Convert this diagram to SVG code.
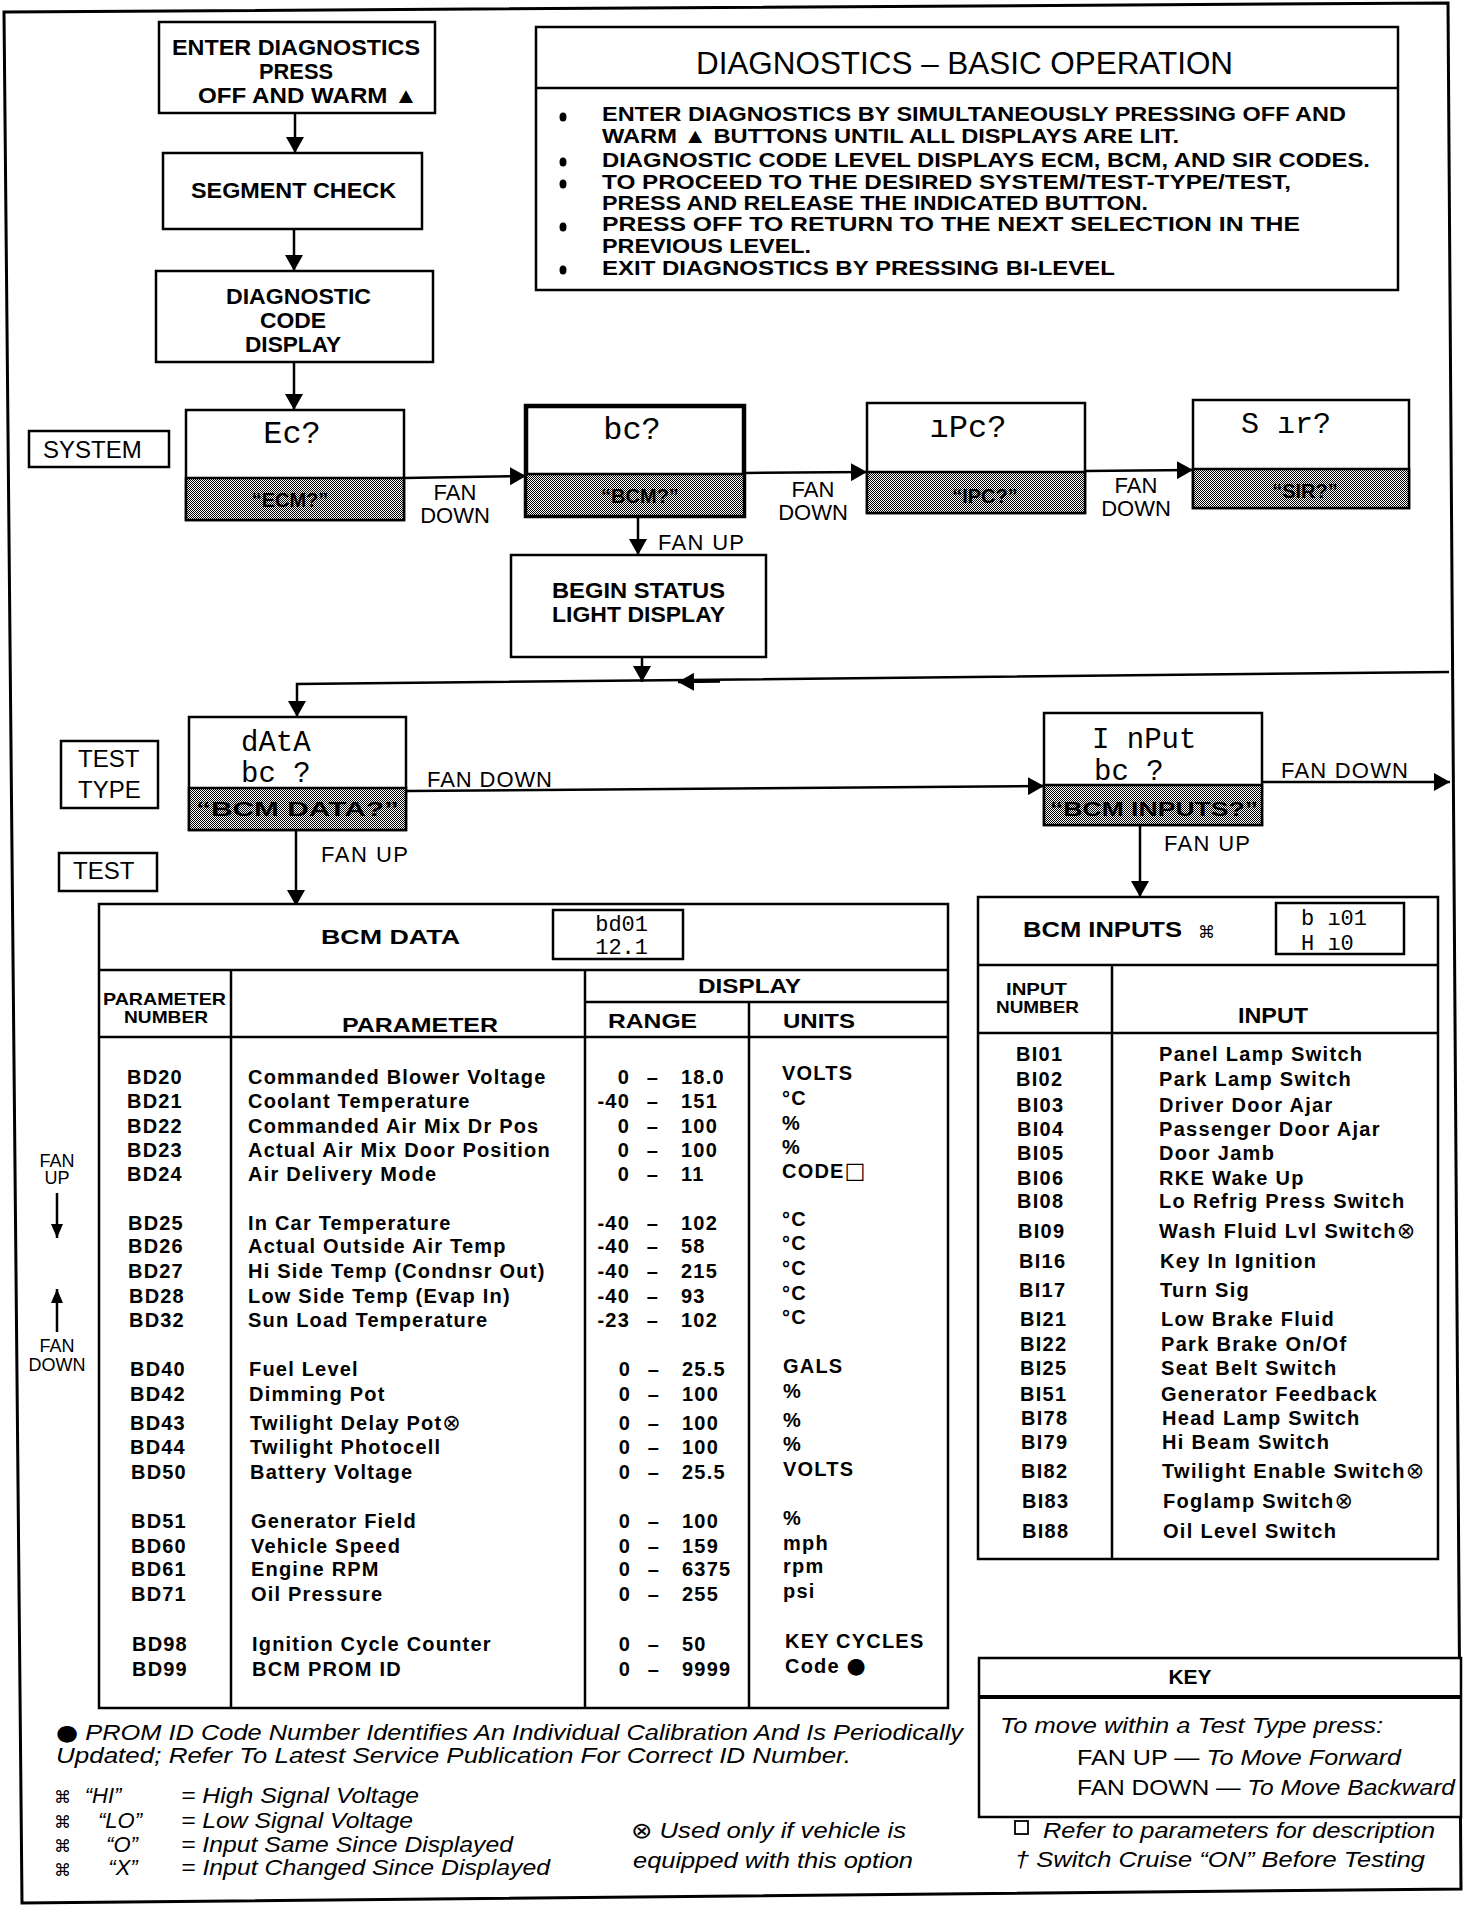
<svg xmlns="http://www.w3.org/2000/svg" width="1472" height="1908" viewBox="0 0 1472 1908">
<defs>
<style>
.bx{fill:#fff;stroke:#000;stroke-width:2.5}
.thk{fill:#fff;stroke:#000;stroke-width:4.5}
.ln{fill:none;stroke:#000;stroke-width:2.5}
.sh{fill:url(#dither);stroke:#000;stroke-width:2.5}
.b{font-family:"Liberation Sans","DejaVu Sans",Arial,sans-serif;font-weight:bold;fill:#000}
.n{font-family:"Liberation Sans","DejaVu Sans",Arial,sans-serif;font-weight:normal;fill:#000}
.it{font-family:"Liberation Sans","DejaVu Sans",Arial,sans-serif;font-style:italic;fill:#000}
.seg{font-family:"Liberation Mono","DejaVu Sans Mono",monospace;fill:#000}
.row{font-size:20px;letter-spacing:1.2px}
.inp{font-size:20px;letter-spacing:1.3px}
.c{text-anchor:middle}
.e{text-anchor:end}
.sym{font-family:"DejaVu Sans",sans-serif;font-size:22px;font-weight:normal;font-style:normal}
</style>
<pattern id="dither" x="0" y="0" width="2" height="2" patternUnits="userSpaceOnUse">
<rect width="2" height="2" fill="#fff"/>
<rect width="1" height="1" fill="#000"/>
<rect x="1" y="1" width="1" height="1" fill="#000"/>
</pattern>
<marker id="ah" viewBox="0 0 16 18" refX="16" refY="9" markerWidth="16" markerHeight="18" markerUnits="userSpaceOnUse" orient="auto">
<path d="M0,0 L16,9 L0,18 z" fill="#000"/>
</marker>
<marker id="ahs" viewBox="0 0 14 12" refX="14" refY="6" markerWidth="14" markerHeight="12" markerUnits="userSpaceOnUse" orient="auto">
<path d="M0,0 L14,6 L0,12 z" fill="#000"/>
</marker>
</defs>
<rect width="1472" height="1908" fill="#fff"/>

<!-- outer frame -->
<polygon points="4,12 1448,3 1461,1889 22,1903" fill="none" stroke="#000" stroke-width="3"/>

<!-- connectors -->
<g id="connectors">
<line class="ln" x1="295" y1="113" x2="295" y2="153" marker-end="url(#ah)"/>
<line class="ln" x1="294" y1="229" x2="294" y2="271" marker-end="url(#ah)"/>
<line class="ln" x1="294" y1="362" x2="294" y2="410" marker-end="url(#ah)"/>
<line class="ln" x1="404" y1="478" x2="526" y2="476" marker-end="url(#ah)"/>
<line class="ln" x1="744" y1="473" x2="867" y2="472" marker-end="url(#ah)"/>
<line class="ln" x1="1085" y1="471" x2="1193" y2="470" marker-end="url(#ah)"/>
<line class="ln" x1="638" y1="516" x2="638" y2="555" marker-end="url(#ah)"/>
<line class="ln" x1="642" y1="657" x2="642" y2="682" marker-end="url(#ah)"/>
<polyline class="ln" points="1449,672 297,684 297,717" marker-end="url(#ah)"/>
<line class="ln" x1="720" y1="681.5" x2="678" y2="682" marker-end="url(#ah)"/>
<line class="ln" x1="407" y1="791" x2="1044" y2="786" marker-end="url(#ah)"/>
<line class="ln" x1="296" y1="830" x2="296" y2="906" marker-end="url(#ah)"/>
<line class="ln" x1="1262" y1="782" x2="1450" y2="782" marker-end="url(#ah)"/>
<line class="ln" x1="1140" y1="825" x2="1140" y2="897" marker-end="url(#ah)"/>
<line class="ln" x1="57" y1="1193" x2="57" y2="1238" marker-end="url(#ahs)"/>
<line class="ln" x1="57" y1="1332" x2="57" y2="1289" marker-end="url(#ahs)"/>
<text class="n c" x="455" y="500" font-size="22">FAN</text>
<text class="n c" x="455" y="523" font-size="22">DOWN</text>
<text class="n c" x="813" y="497" font-size="22">FAN</text>
<text class="n c" x="813" y="520" font-size="22">DOWN</text>
<text class="n c" x="1136" y="493" font-size="22">FAN</text>
<text class="n c" x="1136" y="516" font-size="22">DOWN</text>
<text class="n" x="658" y="550" font-size="22" textLength="86">FAN UP</text>
<text class="n" x="427" y="787" font-size="22" textLength="125">FAN DOWN</text>
<text class="n" x="321" y="862" font-size="22" textLength="87">FAN UP</text>
<text class="n" x="1281" y="778" font-size="22" textLength="127">FAN DOWN</text>
<text class="n" x="1164" y="851" font-size="22" textLength="86">FAN UP</text>
<text class="n c" x="57" y="1167" font-size="18">FAN</text>
<text class="n c" x="57" y="1184" font-size="18">UP</text>
<text class="n c" x="57" y="1352" font-size="18">FAN</text>
<text class="n c" x="57" y="1371" font-size="18">DOWN</text>
</g>

<!-- flow boxes -->
<g id="enter">
<rect class="bx" x="159" y="22" width="276" height="91"/>
<text class="b" x="172" y="55" font-size="22" textLength="248" lengthAdjust="spacingAndGlyphs">ENTER DIAGNOSTICS</text>
<text class="b" x="259" y="79" font-size="22" textLength="74" lengthAdjust="spacingAndGlyphs">PRESS</text>
<text class="b" x="198" y="103" font-size="22" textLength="220" lengthAdjust="spacingAndGlyphs">OFF AND WARM ▲</text>
</g>
<g id="segment">
<rect class="bx" x="163" y="153" width="259" height="76"/>
<text class="b" x="191" y="198" font-size="22" textLength="205" lengthAdjust="spacingAndGlyphs">SEGMENT CHECK</text>
</g>
<g id="codedisplay">
<rect class="bx" x="156" y="271" width="277" height="91"/>
<text class="b" x="226" y="304" font-size="22" textLength="145" lengthAdjust="spacingAndGlyphs">DIAGNOSTIC</text>
<text class="b" x="260" y="328" font-size="22" textLength="66" lengthAdjust="spacingAndGlyphs">CODE</text>
<text class="b" x="245" y="352" font-size="22" textLength="96" lengthAdjust="spacingAndGlyphs">DISPLAY</text>
</g>

<g id="basicop">
<rect class="bx" x="536" y="27" width="862" height="263"/>
<line class="ln" x1="536" y1="88" x2="1398" y2="88"/>
<text class="n" x="696" y="74" font-size="31" textLength="537" lengthAdjust="spacingAndGlyphs">DIAGNOSTICS – BASIC OPERATION</text>
<g fill="#000">
<ellipse cx="563" cy="117" rx="3.5" ry="4.5"/>
<ellipse cx="563" cy="162" rx="3.5" ry="4.5"/>
<ellipse cx="563" cy="184" rx="3.5" ry="4.5"/>
<ellipse cx="563" cy="227" rx="3.5" ry="4.5"/>
<ellipse cx="563" cy="270" rx="3.5" ry="4.5"/>
</g>
<g class="b" font-size="21">
<text x="602" y="121" textLength="744" lengthAdjust="spacingAndGlyphs">ENTER DIAGNOSTICS BY SIMULTANEOUSLY PRESSING OFF AND</text>
<text x="602" y="143" textLength="577" lengthAdjust="spacingAndGlyphs">WARM ▲ BUTTONS UNTIL ALL DISPLAYS ARE LIT.</text>
<text x="602" y="167" textLength="768" lengthAdjust="spacingAndGlyphs">DIAGNOSTIC CODE LEVEL DISPLAYS ECM, BCM, AND SIR CODES.</text>
<text x="602" y="189" textLength="689" lengthAdjust="spacingAndGlyphs">TO PROCEED TO THE DESIRED SYSTEM/TEST-TYPE/TEST,</text>
<text x="602" y="210" textLength="546" lengthAdjust="spacingAndGlyphs">PRESS AND RELEASE THE INDICATED BUTTON.</text>
<text x="602" y="231" textLength="698" lengthAdjust="spacingAndGlyphs">PRESS OFF TO RETURN TO THE NEXT SELECTION IN THE</text>
<text x="602" y="253" textLength="209" lengthAdjust="spacingAndGlyphs">PREVIOUS LEVEL.</text>
<text x="602" y="275" textLength="513" lengthAdjust="spacingAndGlyphs">EXIT DIAGNOSTICS BY PRESSING BI-LEVEL</text>
</g>
</g>

<g id="system-label">
<rect class="bx" x="29" y="431" width="140" height="36"/>
<text class="n" x="43" y="458" font-size="24">SYSTEM</text>
</g>
<g id="ecm">
<rect class="bx" x="186" y="410" width="218" height="110"/>
<rect class="sh" x="186" y="478" width="218" height="42"/>
<text class="seg c" x="292" y="443" font-size="32">Ec?</text>
<text class="b c" x="290" y="507" font-size="20">“ECM?”</text>
</g>
<g id="bcm">
<rect class="thk" x="526" y="406" width="218" height="110"/>
<rect class="sh" x="526" y="474" width="218" height="42" stroke-width="4.5"/>
<text class="seg c" x="632" y="439" font-size="32">bc?</text>
<text class="b c" x="640" y="503" font-size="20">“BCM?”</text>
</g>
<g id="ipc">
<rect class="bx" x="867" y="403" width="218" height="110"/>
<rect class="sh" x="867" y="472" width="218" height="41"/>
<text class="seg c" x="968" y="437" font-size="32">ıPc?</text>
<text class="b c" x="985" y="503" font-size="20">“IPC?”</text>
</g>
<g id="sir">
<rect class="bx" x="1193" y="400" width="216" height="108"/>
<rect class="sh" x="1193" y="469" width="216" height="39"/>
<text class="seg" x="1241" y="433" font-size="30">S ır?</text>
<text class="b c" x="1305" y="498" font-size="20">“SIR?”</text>
</g>
<g id="begin">
<rect class="bx" x="511" y="555" width="255" height="102"/>
<text class="b" x="552" y="598" font-size="22" textLength="173" lengthAdjust="spacingAndGlyphs">BEGIN STATUS</text>
<text class="b" x="552" y="622" font-size="22" textLength="173" lengthAdjust="spacingAndGlyphs">LIGHT DISPLAY</text>
</g>

<g id="testtype-label">
<rect class="bx" x="61" y="741" width="97" height="67"/>
<text class="n" x="78" y="767" font-size="24">TEST</text>
<text class="n" x="78" y="798" font-size="24">TYPE</text>
</g>
<g id="test-label">
<rect class="bx" x="59" y="853" width="98" height="38"/>
<text class="n" x="73" y="879" font-size="24">TEST</text>
</g>
<g id="data">
<rect class="bx" x="189" y="717" width="217" height="113"/>
<rect class="sh" x="189" y="788" width="217" height="42"/>
<text class="seg" x="241" y="751" font-size="29">dAtA</text>
<text class="seg" x="241" y="782" font-size="29">bc ?</text>
<text class="b" x="196" y="816" font-size="21" textLength="203" lengthAdjust="spacingAndGlyphs">“BCM DATA?”</text>
</g>
<g id="inputs">
<rect class="bx" x="1044" y="713" width="218" height="112"/>
<rect class="sh" x="1044" y="785" width="218" height="40"/>
<text class="seg" x="1092" y="748" font-size="29">I nPut</text>
<text class="seg" x="1094" y="780" font-size="29">bc ?</text>
<text class="b" x="1050" y="816" font-size="21" textLength="208" lengthAdjust="spacingAndGlyphs">“BCM INPUTS?”</text>
</g>

<!-- BCM DATA table -->
<g id="bcm-data-table">
<rect class="bx" x="99" y="904" width="849" height="804" stroke-width="3"/>
<line class="ln" x1="99" y1="970" x2="948" y2="970"/>
<line class="ln" x1="585" y1="1002" x2="948" y2="1002"/>
<line class="ln" x1="99" y1="1037" x2="948" y2="1037"/>
<line class="ln" x1="231" y1="970" x2="231" y2="1708"/>
<line class="ln" x1="585" y1="970" x2="585" y2="1708"/>
<line class="ln" x1="749" y1="1002" x2="749" y2="1708"/>
<text class="b" x="321" y="944" font-size="21" textLength="139" lengthAdjust="spacingAndGlyphs">BCM DATA</text>
<rect class="bx" x="553" y="910" width="130" height="49"/>
<text class="seg e" x="648" y="931" font-size="22">bd01</text>
<text class="seg e" x="648" y="954" font-size="22">12.1</text>
<text class="b" x="103" y="1005" font-size="17" textLength="123" lengthAdjust="spacingAndGlyphs">PARAMETER</text>
<text class="b" x="124" y="1023" font-size="17" textLength="84" lengthAdjust="spacingAndGlyphs">NUMBER</text>
<text class="b" x="342" y="1032" font-size="21" textLength="156" lengthAdjust="spacingAndGlyphs">PARAMETER</text>
<text class="b" x="698" y="993" font-size="21" textLength="103" lengthAdjust="spacingAndGlyphs">DISPLAY</text>
<text class="b" x="608" y="1028" font-size="21" textLength="89" lengthAdjust="spacingAndGlyphs">RANGE</text>
<text class="b" x="783" y="1028" font-size="21" textLength="72" lengthAdjust="spacingAndGlyphs">UNITS</text>
<g class="b row">
<text x="127" y="1084">BD20</text><text x="248" y="1084">Commanded Blower Voltage</text>
<text x="127" y="1108">BD21</text><text x="248" y="1108">Coolant Temperature</text>
<text x="127" y="1133">BD22</text><text x="248" y="1133">Commanded Air Mix Dr Pos</text>
<text x="127" y="1157">BD23</text><text x="248" y="1157">Actual Air Mix Door Position</text>
<text x="127" y="1181">BD24</text><text x="248" y="1181">Air Delivery Mode</text>
<text x="128" y="1230">BD25</text><text x="248" y="1230">In Car Temperature</text>
<text x="128" y="1253">BD26</text><text x="248" y="1253">Actual Outside Air Temp</text>
<text x="128" y="1278">BD27</text><text x="248" y="1278">Hi Side Temp (Condnsr Out)</text>
<text x="129" y="1303">BD28</text><text x="248" y="1303">Low Side Temp (Evap In)</text>
<text x="129" y="1327">BD32</text><text x="248" y="1327">Sun Load Temperature</text>
<text x="130" y="1376">BD40</text><text x="249" y="1376">Fuel Level</text>
<text x="130" y="1401">BD42</text><text x="249" y="1401">Dimming Pot</text>
<text x="130" y="1430">BD43</text><text x="250" y="1430">Twilight Delay Pot<tspan class="sym">⊗</tspan></text>
<text x="130" y="1454">BD44</text><text x="250" y="1454">Twilight Photocell</text>
<text x="131" y="1479">BD50</text><text x="250" y="1479">Battery Voltage</text>
<text x="131" y="1528">BD51</text><text x="251" y="1528">Generator Field</text>
<text x="131" y="1553">BD60</text><text x="251" y="1553">Vehicle Speed</text>
<text x="131" y="1576">BD61</text><text x="251" y="1576">Engine RPM</text>
<text x="131" y="1601">BD71</text><text x="251" y="1601">Oil Pressure</text>
<text x="132" y="1651">BD98</text><text x="252" y="1651">Ignition Cycle Counter</text>
<text x="132" y="1676">BD99</text><text x="252" y="1676">BCM PROM ID</text>
</g>
<g class="b row e">
<text x="630" y="1084">0</text><text x="630" y="1108">-40</text><text x="630" y="1133">0</text><text x="630" y="1157">0</text><text x="630" y="1181">0</text>
<text x="630" y="1230">-40</text><text x="630" y="1253">-40</text><text x="630" y="1278">-40</text><text x="630" y="1303">-40</text><text x="630" y="1327">-23</text>
<text x="631" y="1376">0</text><text x="631" y="1401">0</text><text x="631" y="1430">0</text><text x="631" y="1454">0</text><text x="631" y="1479">0</text>
<text x="631" y="1528">0</text><text x="631" y="1553">0</text><text x="631" y="1576">0</text><text x="631" y="1601">0</text>
<text x="631" y="1651">0</text><text x="631" y="1676">0</text>
</g>
<g class="b row c">
<text x="653" y="1084">–</text><text x="653" y="1108">–</text><text x="653" y="1133">–</text><text x="653" y="1157">–</text><text x="653" y="1181">–</text>
<text x="653" y="1230">–</text><text x="653" y="1253">–</text><text x="653" y="1278">–</text><text x="653" y="1303">–</text><text x="653" y="1327">–</text>
<text x="654" y="1376">–</text><text x="654" y="1401">–</text><text x="654" y="1430">–</text><text x="654" y="1454">–</text><text x="654" y="1479">–</text>
<text x="654" y="1528">–</text><text x="654" y="1553">–</text><text x="654" y="1576">–</text><text x="654" y="1601">–</text>
<text x="654" y="1651">–</text><text x="654" y="1676">–</text>
</g>
<g class="b row">
<text x="681" y="1084">18.0</text><text x="681" y="1108">151</text><text x="681" y="1133">100</text><text x="681" y="1157">100</text><text x="681" y="1181">11</text>
<text x="681" y="1230">102</text><text x="681" y="1253">58</text><text x="681" y="1278">215</text><text x="681" y="1303">93</text><text x="681" y="1327">102</text>
<text x="682" y="1376">25.5</text><text x="682" y="1401">100</text><text x="682" y="1430">100</text><text x="682" y="1454">100</text><text x="682" y="1479">25.5</text>
<text x="682" y="1528">100</text><text x="682" y="1553">159</text><text x="682" y="1576">6375</text><text x="682" y="1601">255</text>
<text x="682" y="1651">50</text><text x="682" y="1676">9999</text>
</g>
<g class="b row">
<text x="782" y="1080">VOLTS</text><text x="782" y="1105">°C</text><text x="782" y="1130">%</text><text x="782" y="1154">%</text><text x="782" y="1178">CODE<tspan class="sym" font-size="20">□</tspan></text>
<text x="782" y="1226">°C</text><text x="782" y="1250">°C</text><text x="782" y="1275">°C</text><text x="782" y="1300">°C</text><text x="782" y="1324">°C</text>
<text x="783" y="1373">GALS</text><text x="783" y="1398">%</text><text x="783" y="1427">%</text><text x="783" y="1451">%</text><text x="783" y="1476">VOLTS</text>
<text x="783" y="1525">%</text><text x="783" y="1550">mph</text><text x="783" y="1573">rpm</text><text x="783" y="1598">psi</text>
<text x="785" y="1648">KEY CYCLES</text><text x="785" y="1673">Code <tspan class="sym" font-size="18">●</tspan></text>
</g>
</g>

<!-- BCM INPUTS table -->
<g id="bcm-inputs-table">
<rect class="bx" x="978" y="897" width="460" height="662" stroke-width="3"/>
<line class="ln" x1="978" y1="965" x2="1438" y2="965"/>
<line class="ln" x1="978" y1="1033" x2="1438" y2="1033"/>
<line class="ln" x1="1112" y1="965" x2="1112" y2="1559"/>
<text class="b" x="1023" y="937" font-size="22" textLength="159" lengthAdjust="spacingAndGlyphs">BCM INPUTS</text>
<text class="n" x="1198" y="938" font-size="17" font-family="DejaVu Sans">⌘</text>
<rect class="bx" x="1276" y="903" width="128" height="51"/>
<text class="seg" x="1301" y="925" font-size="22">b ı01</text>
<text class="seg" x="1301" y="950" font-size="22">H ı0</text>
<text class="b" x="1006" y="995" font-size="17" textLength="61" lengthAdjust="spacingAndGlyphs">INPUT</text>
<text class="b" x="996" y="1013" font-size="17" textLength="83" lengthAdjust="spacingAndGlyphs">NUMBER</text>
<text class="b" x="1238" y="1023" font-size="22" textLength="70" lengthAdjust="spacingAndGlyphs">INPUT</text>
<g class="b inp">
<text x="1016" y="1061">BI01</text><text x="1159" y="1061">Panel Lamp Switch</text>
<text x="1016" y="1086">BI02</text><text x="1159" y="1086">Park Lamp Switch</text>
<text x="1017" y="1112">BI03</text><text x="1159" y="1112">Driver Door Ajar</text>
<text x="1017" y="1136">BI04</text><text x="1159" y="1136">Passenger Door Ajar</text>
<text x="1017" y="1160">BI05</text><text x="1159" y="1160">Door Jamb</text>
<text x="1017" y="1185">BI06</text><text x="1159" y="1185">RKE Wake Up</text>
<text x="1017" y="1208">BI08</text><text x="1159" y="1208">Lo Refrig Press Switch</text>
<text x="1018" y="1238">BI09</text><text x="1159" y="1238">Wash Fluid Lvl Switch<tspan class="sym">⊗</tspan></text>
<text x="1019" y="1268">BI16</text><text x="1160" y="1268">Key In Ignition</text>
<text x="1019" y="1297">BI17</text><text x="1160" y="1297">Turn Sig</text>
<text x="1020" y="1326">BI21</text><text x="1161" y="1326">Low Brake Fluid</text>
<text x="1020" y="1351">BI22</text><text x="1161" y="1351">Park Brake On/Of</text>
<text x="1020" y="1375">BI25</text><text x="1161" y="1375">Seat Belt Switch</text>
<text x="1020" y="1401">BI51</text><text x="1161" y="1401">Generator Feedback</text>
<text x="1021" y="1425">BI78</text><text x="1162" y="1425">Head Lamp Switch</text>
<text x="1021" y="1449">BI79</text><text x="1162" y="1449">Hi Beam Switch</text>
<text x="1021" y="1478">BI82</text><text x="1162" y="1478">Twilight Enable Switch<tspan class="sym">⊗</tspan></text>
<text x="1022" y="1508">BI83</text><text x="1163" y="1508">Foglamp Switch<tspan class="sym">⊗</tspan></text>
<text x="1022" y="1538">BI88</text><text x="1163" y="1538">Oil Level Switch</text>
</g>
</g>

<!-- footnotes -->
<g id="footnotes">
<text class="it" x="56" y="1740" font-size="22" textLength="907" lengthAdjust="spacingAndGlyphs"><tspan class="sym" font-size="18">●</tspan> PROM ID Code Number Identifies An Individual Calibration And Is Periodically</text>
<text class="it" x="56" y="1763" font-size="22" textLength="795" lengthAdjust="spacingAndGlyphs">Updated;  Refer To Latest Service Publication For Correct ID Number.</text>
<g class="n" font-size="17" font-family="DejaVu Sans">
<text x="54" y="1803">⌘</text>
<text x="54" y="1828">⌘</text>
<text x="54" y="1852">⌘</text>
<text x="54" y="1876">⌘</text>
</g>
<g class="it c" font-size="22">
<text x="103" y="1803">“HI”</text>
<text x="120" y="1828">“LO”</text>
<text x="122" y="1852">“O”</text>
<text x="123" y="1875">“X”</text>
</g>
<g class="it" font-size="22">
<text x="181" y="1803" textLength="238" lengthAdjust="spacingAndGlyphs">= High Signal Voltage</text>
<text x="181" y="1828" textLength="232" lengthAdjust="spacingAndGlyphs">= Low Signal Voltage</text>
<text x="181" y="1852" textLength="332" lengthAdjust="spacingAndGlyphs">= Input Same Since Displayed</text>
<text x="181" y="1875" textLength="369" lengthAdjust="spacingAndGlyphs">= Input Changed Since Displayed</text>
<text x="631" y="1838" textLength="275" lengthAdjust="spacingAndGlyphs"><tspan class="sym">⊗</tspan> Used only if vehicle is</text>
<text x="633" y="1868" textLength="280" lengthAdjust="spacingAndGlyphs">equipped with this option</text>
</g>
</g>

<!-- KEY -->
<g id="key">
<rect class="bx" x="979" y="1658" width="482" height="159" stroke-width="4"/>
<line x1="979" y1="1697" x2="1461" y2="1697" stroke="#000" stroke-width="4"/>
<text class="b c" x="1190" y="1684" font-size="21">KEY</text>
<text class="it" x="1000" y="1733" font-size="22" textLength="383" lengthAdjust="spacingAndGlyphs">To move within a Test Type press:</text>
<text class="n" x="1077" y="1765" font-size="22" textLength="324" lengthAdjust="spacingAndGlyphs">FAN UP — <tspan font-style="italic">To Move Forward</tspan></text>
<text class="n" x="1077" y="1795" font-size="22" textLength="378" lengthAdjust="spacingAndGlyphs">FAN DOWN — <tspan font-style="italic">To Move Backward</tspan></text>
<rect x="1015" y="1821" width="13" height="13" fill="none" stroke="#000" stroke-width="1.8"/>
<text class="it" x="1043" y="1838" font-size="22" textLength="392" lengthAdjust="spacingAndGlyphs">Refer to parameters for description</text>
<text class="it" x="1015" y="1867" font-size="22" textLength="410" lengthAdjust="spacingAndGlyphs">† Switch Cruise “ON” Before Testing</text>
</g>
</svg>
